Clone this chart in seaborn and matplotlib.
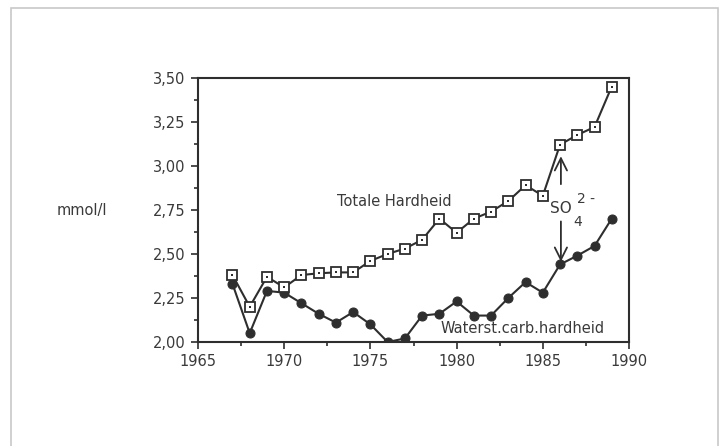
import matplotlib
matplotlib.use("Agg")
import matplotlib.pyplot as plt
import matplotlib.ticker as mticker
from matplotlib.patches import Rectangle
import seaborn as sns
import pandas as pd

years = list(range(1967, 1990))
totale = [2.38, 2.20, 2.37, 2.31, 2.38, 2.39, 2.395, 2.395, 2.46, 2.50, 2.53, 2.58,
          2.70, 2.62, 2.70, 2.74, 2.80, 2.89, 2.83, 3.12, 3.175, 3.22, 3.45]
waterst = [2.33, 2.05, 2.29, 2.28, 2.22, 2.16, 2.11, 2.17, 2.10, 2.00, 2.02, 2.15,
           2.16, 2.23, 2.15, 2.15, 2.25, 2.34, 2.28, 2.44, 2.49, 2.545, 2.70]
x_ticks = [1965, 1970, 1975, 1980, 1985, 1990]
y_ticks = [2.00, 2.25, 2.50, 2.75, 3.00, 3.25, 3.50]

df = pd.DataFrame({"year": years, "totale": totale, "waterst": waterst})

sns.set_style("white")
plt.rcParams["font.family"] = ["DejaVu Sans"]
INK = "#2e2e2e"
TXT = "#3a3a3a"

fig = plt.figure(figsize=(7.24, 4.46), dpi=100)
ax = fig.add_axes([198/724, 1-342/446, (629-198)/724, (342-77.7)/446])

sns.lineplot(data=df, x="year", y="waterst", ax=ax, color=INK, lw=1.5,
             marker="o", markersize=6.5, markerfacecolor=INK, markeredgecolor=INK)
sns.lineplot(data=df, x="year", y="totale", ax=ax, color=INK, lw=1.5,
             marker="s", markersize=7.5, markerfacecolor="white",
             markeredgecolor=INK, markeredgewidth=1.3)
sns.scatterplot(data=df, x="year", y="totale", ax=ax, color=INK, marker="s",
                s=3, linewidth=0, zorder=5)

ax.set_xlim(1965, 1990)
ax.set_ylim(2.0, 3.5)
ax.set_xticks(x_ticks)
ax.set_yticks(y_ticks)
ax.xaxis.set_minor_locator(mticker.MultipleLocator(2.5))
ax.yaxis.set_minor_locator(mticker.MultipleLocator(0.125))
ax.yaxis.set_major_formatter(mticker.FuncFormatter(lambda v, p: f"{v:.2f}".replace(".", ",")))
ax.xaxis.set_major_formatter(mticker.FuncFormatter(lambda v, p: f"{int(v)}"))
ax.tick_params(which="major", direction="out", length=5, width=1.2, color=INK,
               labelsize=10.5, labelcolor=TXT, pad=4)
ax.tick_params(which="minor", direction="out", length=3, width=1.2, color=INK)
ax.tick_params(axis="x", which="both", bottom=True)
ax.tick_params(axis="y", which="both", left=True)
ax.set_xlabel("")
ax.set_ylabel("")
for s in ax.spines.values():
    s.set_color(INK)
    s.set_linewidth(1.5)
    s.set_visible(True)

ax.text(1973.06, 2.795, "Totale Hardheid", fontsize=10.5, color=TXT, va="center", ha="left")
ax.text(1979.05, 2.074, "Waterst.carb.hardheid", fontsize=10.5, color=TXT, va="center", ha="left")
ax.text(1985.4, 2.76, "SO", fontsize=11, color=TXT, va="center", ha="left")
ax.text(1986.98, 2.81, "2 -", fontsize=10, color=TXT, va="center", ha="left")
ax.text(1986.75, 2.68, "4", fontsize=10, color=TXT, va="center", ha="left")

ax.annotate("", xy=(1986.05, 3.07), xytext=(1986.05, 2.88),
            arrowprops=dict(arrowstyle="->", color=INK, lw=1.3, mutation_scale=22))
ax.annotate("", xy=(1986.05, 2.44), xytext=(1986.05, 2.70),
            arrowprops=dict(arrowstyle="->", color=INK, lw=1.3, mutation_scale=22))

fig.text(57/724, 1-210/446, "mmol/l", fontsize=10.5, color=TXT, va="center", ha="left")

fig.patches.append(Rectangle((11/724, -0.01), (718-11)/724, 1.01-8/446,
                             transform=fig.transFigure, fill=False,
                             edgecolor="#c8c8c8", lw=1.2))

fig.savefig("out.png", dpi=100, facecolor="white")
